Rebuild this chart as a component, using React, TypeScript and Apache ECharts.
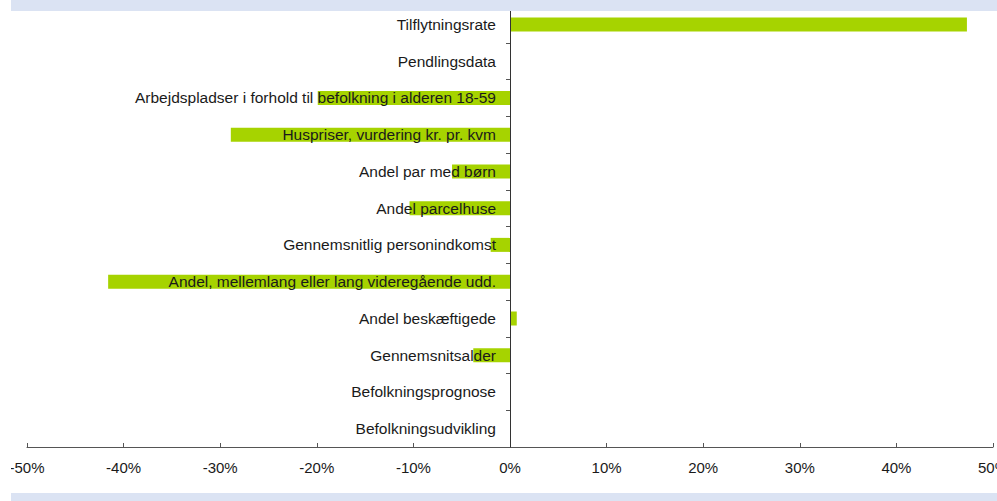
import React, { useEffect, useRef } from "react";
import * as echarts from "echarts";

const categories = [
  "Befolkningsudvikling",
  "Befolkningsprognose",
  "Gennemsnitsalder",
  "Andel beskæftigede",
  "Andel, mellemlang eller lang videregående udd.",
  "Gennemsnitlig personindkomst",
  "Andel parcelhuse",
  "Andel par med børn",
  "Huspriser, vurdering kr. pr. kvm",
  "Arbejdspladser i forhold til befolkning i alderen 18-59",
  "Pendlingsdata",
  "Tilflytningsrate",
];

const values = [0, 0, -3.8, 0.7, -41.6, -2.0, -10.4, -6.0, -28.9, -19.9, 0, 47.3];

const xMin = -50;
const xMax = 50;
const xStep = 10;

const W = 997;
const H = 501;
const gridLeft = 27;
const gridRight = 4;

export default function App() {
  const ref = useRef<HTMLDivElement>(null);
  useEffect(() => {
    if (!ref.current) return;
    const chart = echarts.init(ref.current, undefined, { renderer: "svg" });
    const font = "'Liberation Sans', Arial, sans-serif";
    const plotW = W - gridLeft - gridRight;
    const zeroOffset = -plotW * ((0 - xMin) / (xMax - xMin));
    chart.setOption({
      animation: false,
      backgroundColor: "#ffffff",
      grid: {
        left: gridLeft,
        right: gridRight,
        top: 6,
        bottom: 54,
        containLabel: false,
        outerBoundsMode: "none",
      },
      xAxis: {
        type: "value",
        min: xMin,
        max: xMax,
        interval: xStep,
        axisLine: { show: true, lineStyle: { color: "#555555", width: 1 } },
        axisTick: { show: true, inside: true, length: 4, lineStyle: { color: "#555555" } },
        splitLine: { show: false },
        axisLabel: {
          formatter: "{value}%",
          color: "#1a1a1a",
          fontFamily: font,
          fontSize: 15,
          margin: 13,
          showMinLabel: true,
          showMaxLabel: true,
          hideOverlap: false,
        },
      },
      yAxis: {
        type: "category",
        data: categories,
        z: 10,
        position: "left",
        offset: zeroOffset,
        axisLine: { show: true, onZero: false, lineStyle: { color: "#333333", width: 1 } },
        axisTick: { show: true, length: 4, lineStyle: { color: "#555555" } },
        axisLabel: {
          color: "#1a1a1a",
          fontFamily: font,
          fontSize: 15.5,
          margin: 14,
          interval: 0,
        },
      },
      series: [
        {
          type: "bar",
          data: values,
          barWidth: 14,
          itemStyle: { color: "#a6d300" },
          z: 2,
        },
      ],
      graphic: [
        {
          type: "rect",
          z: 100,
          shape: { x: 11, y: 0, width: 986, height: 11 },
          style: { fill: "#dbe3f3" },
        },
        {
          type: "rect",
          z: 100,
          shape: { x: 11, y: 493, width: 986, height: 8 },
          style: { fill: "#dbe3f3" },
        },
        {
          type: "rect",
          z: 100,
          shape: { x: 0, y: 455, width: 11, height: 30 },
          style: { fill: "#ffffff" },
        },
      ],
    });
    return () => chart.dispose();
  }, []);
  return (
    <div
      ref={ref}
      style={{ position: "fixed", left: 0, top: 0, width: W, height: H }}
    />
  );
}
